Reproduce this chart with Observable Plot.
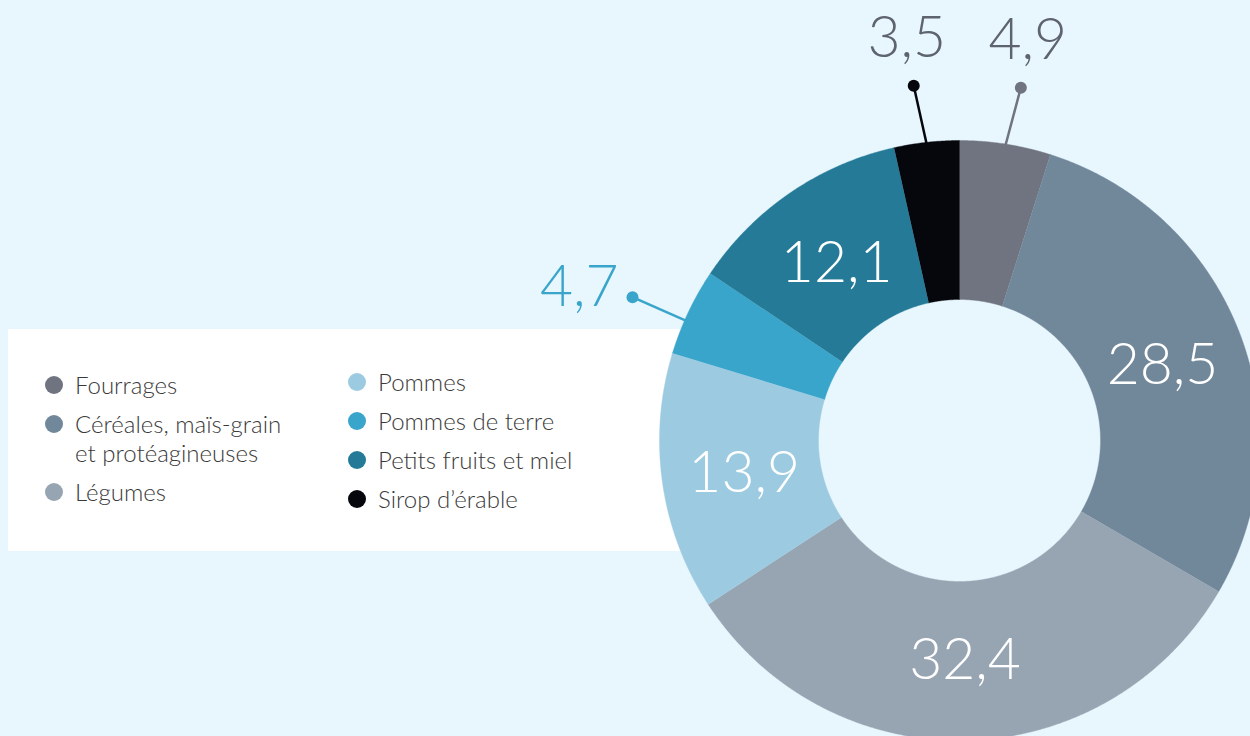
<!DOCTYPE html>
<html><head><meta charset="utf-8">
<script src="https://cdn.jsdelivr.net/npm/d3@7"></script>
<script src="https://cdn.jsdelivr.net/npm/@observablehq/plot@0.6"></script>
<style>
html,body{margin:0;padding:0;background:#e8f6fd;overflow:hidden;}
#wrap{position:relative;width:1250px;height:736px;overflow:hidden;}
#legend{position:absolute;left:8px;top:329px;width:690px;height:222px;background:#fff;font-family:Lato,"Open Sans",sans-serif;font-weight:300;font-size:24px;color:#3a3a3a;}
.col{position:absolute;display:flex;flex-direction:column;gap:10px;}
.item{display:flex;align-items:flex-start;line-height:29px;}
.sw{width:18px;height:18px;border-radius:50%;margin-top:6px;margin-right:12px;flex:none;}
#chart{position:absolute;left:0;top:0;}
</style></head>
<body><div id="wrap"><div id="legend"></div><div id="chart"></div></div>
<script>
const names = ["Fourrages","Céréales, maïs-grain et protéagineuses","Légumes","Pommes","Pommes de terre","Petits fruits et miel","Sirop d’érable"];
const legendLines = [["Fourrages"],["Céréales, maïs-grain","et protéagineuses"],["Légumes"],["Pommes"],["Pommes de terre"],["Petits fruits et miel"],["Sirop d’érable"]];
const values = [4.9, 28.5, 32.4, 13.9, 4.7, 12.1, 3.5];
const colors = ["#6f7480","#71879a","#97a5b3","#9ccbe1","#3aa5cb","#257b97","#05070d"];
const labelColors = ["#5e6370",null,null,null,"#3aa5cb",null,"#5e6370"];

const total = d3.sum(values);
let cum = 0;
const slices = names.map((name, i) => {
  const a0 = cum / total * 2 * Math.PI; cum += values[i];
  const a1 = cum / total * 2 * Math.PI;
  return {name, value: values[i], color: colors[i], labelColor: labelColors[i], a0, a1, mid: (a0 + a1) / 2,
          label: values[i].toFixed(1).replace(".", ",")};
});
const R0 = 0.47, R1 = 1;
const pts = slices.flatMap(s => {
  const n = Math.max(2, Math.ceil((s.a1 - s.a0) / 0.005));
  const out = [];
  for (let k = 0; k <= n; k++) { const a = s.a0 + (s.a1 - s.a0) * k / n; out.push({name: s.name, color: s.color, x: R1 * Math.sin(a), y: R1 * Math.cos(a)}); }
  for (let k = n; k >= 0; k--) { const a = s.a0 + (s.a1 - s.a0) * k / n; out.push({name: s.name, color: s.color, x: R0 * Math.sin(a), y: R0 * Math.cos(a)}); }
  return out;
});
const insideSl = slices.filter(s => s.value >= 6);
const outsideSl = slices.filter(s => s.value < 6);
// leader placement: top labels spread apart horizontally; side labels anchored left of the dot
outsideSl.forEach(s => {
  const isTop = Math.abs(Math.sin(s.mid)) < 0.7;
  s.isTop = isTop;
  s.la = isTop ? s.mid : s.mid - 0.03;
  s.spread = isTop ? Math.sign(Math.sin(s.mid)) : 0;
});
const topSl = outsideSl.filter(s => s.isTop);
const sideSl = outsideSl.filter(s => !s.isTop);
const RD = 1.19, RI = 0.725;
const font = "Lato, 'Open Sans', sans-serif";

const chart = Plot.plot({
  width: 1250, height: 736, margin: 0,
  style: {background: "transparent", overflow: "hidden"},
  x: {domain: [-1, 1], range: [659, 1259], axis: null},
  y: {domain: [-1, 1], range: [740, 140], axis: null},
  color: {type: "identity"},
  marks: [
    Plot.line(pts, {x: "x", y: "y", z: "name", fill: "color", stroke: "color", strokeWidth: 0.4}),
    Plot.text(insideSl, {x: d => RI * Math.sin(d.mid), y: d => RI * Math.cos(d.mid), text: "label", fill: "white",
      fontSize: 57, fontWeight: 300, fontFamily: font, dy: 3}),
    Plot.link(outsideSl, {x1: d => 0.99 * Math.sin(d.la), y1: d => 0.99 * Math.cos(d.la),
      x2: d => RD * Math.sin(d.la) + d.spread * 0.022, y2: d => RD * Math.cos(d.la),
      stroke: "color", strokeWidth: 2.5}),
    Plot.dot(outsideSl, {x: d => RD * Math.sin(d.la) + d.spread * 0.022, y: d => RD * Math.cos(d.la), r: 6, fill: "color"}),
    Plot.text(topSl, {x: d => RD * Math.sin(d.la) + d.spread * 0.045, y: d => RD * Math.cos(d.la), text: "label", fill: "labelColor",
      fontSize: 57, fontWeight: 300, fontFamily: font, dy: -47}),
    Plot.text(sideSl, {x: d => RD * Math.sin(d.la), y: d => RD * Math.cos(d.la), text: "label", fill: "labelColor",
      fontSize: 57, fontWeight: 300, fontFamily: font, textAnchor: "end", dx: -14, dy: -9})
  ]
});
document.getElementById("chart").appendChild(chart);

// legend
const legend = document.getElementById("legend");
const cols = [{left: 37, top: 41, idx: [0,1,2]}, {left: 340, top: 38, idx: [3,4,5,6]}];
for (const c of cols) {
  const col = document.createElement("div");
  col.className = "col"; col.style.left = c.left + "px"; col.style.top = c.top + "px";
  for (const i of c.idx) {
    const it = document.createElement("div"); it.className = "item";
    const sw = document.createElement("div"); sw.className = "sw"; sw.style.background = colors[i];
    const tx = document.createElement("div"); tx.innerHTML = legendLines[i].join("<br>");
    it.appendChild(sw); it.appendChild(tx); col.appendChild(it);
  }
  legend.appendChild(col);
}
</script></body></html>
